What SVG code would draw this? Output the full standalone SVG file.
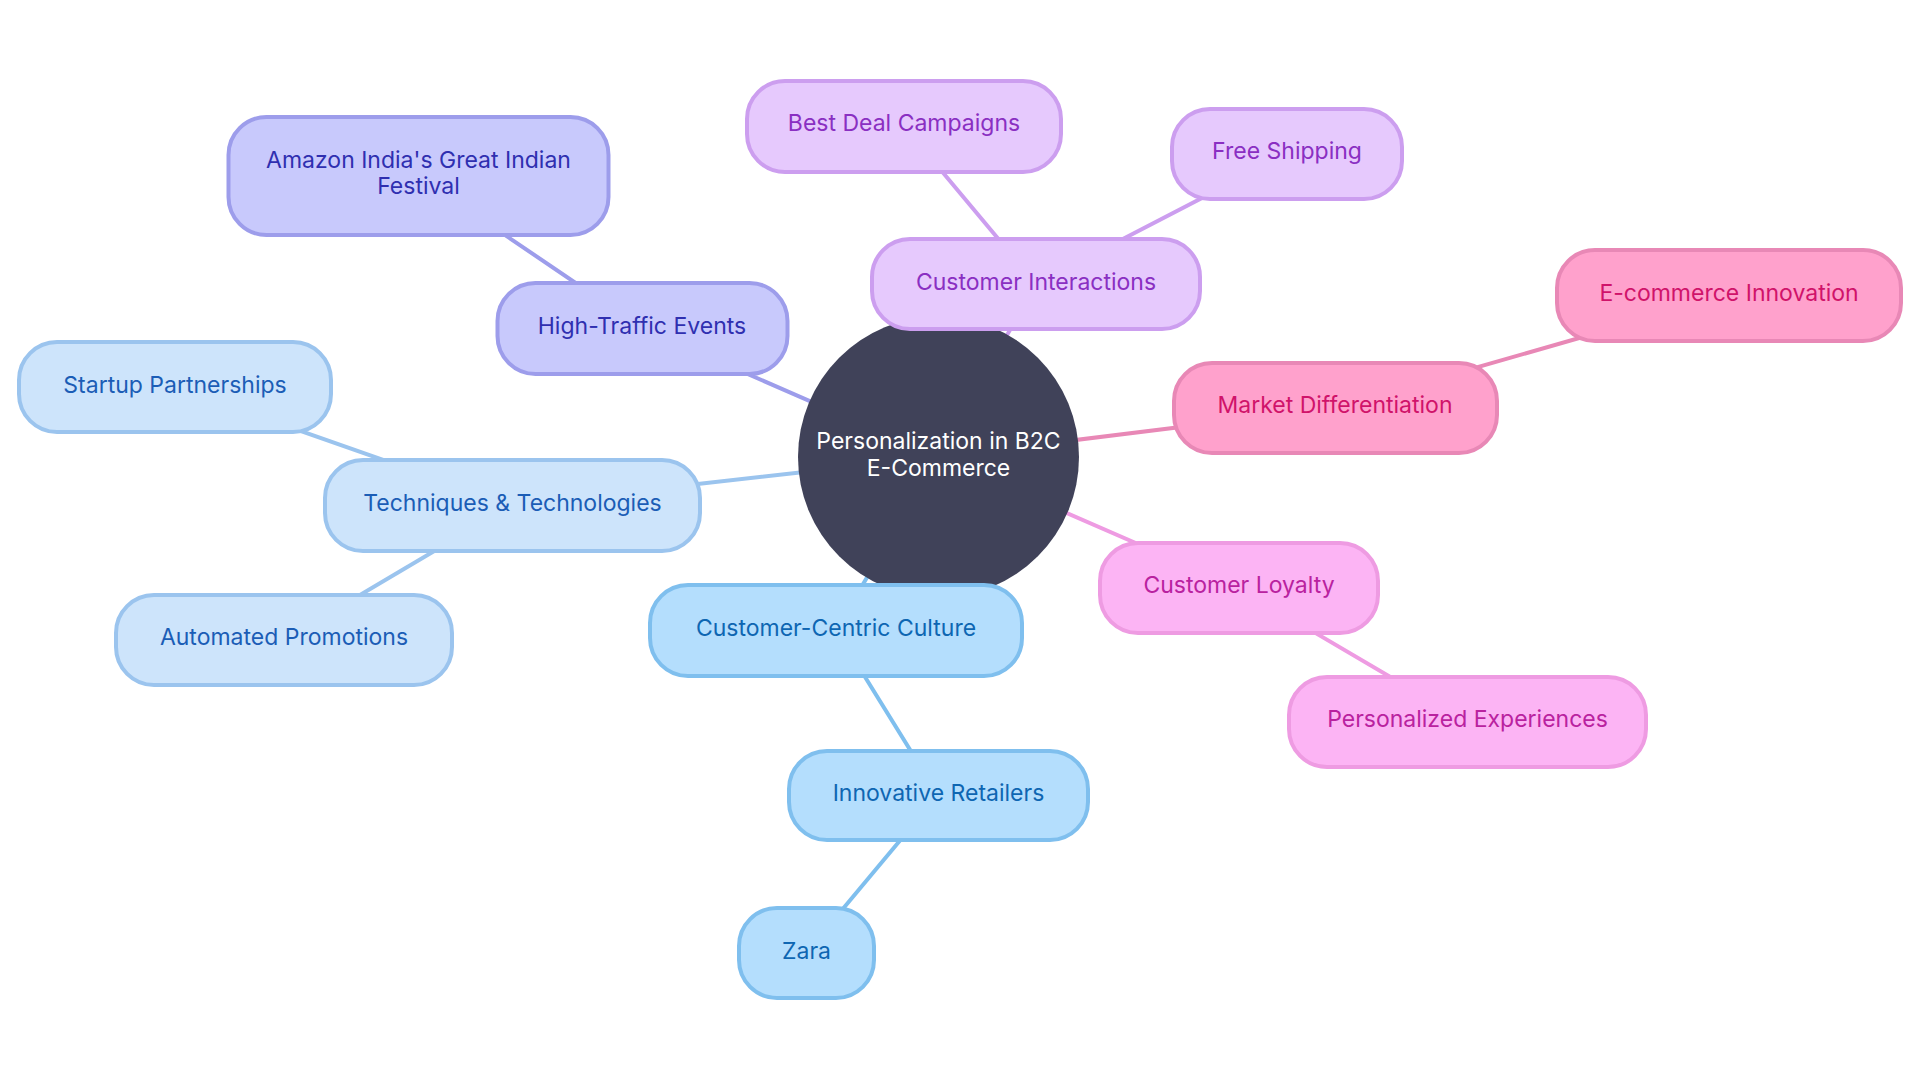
<svg xmlns="http://www.w3.org/2000/svg" width="1920" height="1080" viewBox="0 0 1920 1080">
<style>
text{font-family:Inter,"Noto Sans","Liberation Sans",sans-serif;font-size:23px;text-anchor:middle;dominant-baseline:central}
.n rect{stroke-width:4}
.e line{stroke-width:4;stroke-linecap:round}
.b1 rect{fill:#c8c9fc;stroke:#9d9deb}.b1 text{fill:#2f2fb0}
.b2 rect{fill:#e6c9fd;stroke:#cc9eef}.b2 text{fill:#8a2fc2}
.b3 rect{fill:#ffa1cc;stroke:#e888b6}.b3 text{fill:#d0136a}
.b4 rect{fill:#fcb4f4;stroke:#ee9be2}.b4 text{fill:#b9229f}
.b5 rect{fill:#b4defd;stroke:#7fbfee}.b5 text{fill:#0e66b2}
.b6 rect{fill:#cde4fb;stroke:#9bc4ee}.b6 text{fill:#1b5db6}
</style>
<rect width="1920" height="1080" fill="#ffffff"/>
<g id="connectors" class="e">
<line x1="938" y1="457" x2="642" y2="328" stroke="#9d9deb"/>
<line x1="642" y1="328" x2="418" y2="176" stroke="#9d9deb"/>
<line x1="938" y1="457" x2="1036" y2="284" stroke="#cc9eef"/>
<line x1="1036" y1="284" x2="904" y2="126" stroke="#cc9eef"/>
<line x1="1036" y1="284" x2="1287" y2="154" stroke="#cc9eef"/>
<line x1="938" y1="457" x2="1335" y2="408" stroke="#e888b6"/>
<line x1="1335" y1="408" x2="1729" y2="295" stroke="#e888b6"/>
<line x1="938" y1="457" x2="1239" y2="588" stroke="#ee9be2"/>
<line x1="1239" y1="588" x2="1467" y2="722" stroke="#ee9be2"/>
<line x1="938" y1="457" x2="836" y2="630" stroke="#7fbfee"/>
<line x1="836" y1="630" x2="938" y2="795" stroke="#7fbfee"/>
<line x1="938" y1="795" x2="806" y2="953" stroke="#7fbfee"/>
<line x1="938" y1="457" x2="512" y2="505" stroke="#9bc4ee"/>
<line x1="512" y1="505" x2="175" y2="387" stroke="#9bc4ee"/>
<line x1="512" y1="505" x2="284" y2="640" stroke="#9bc4ee"/>
</g>
<g id="root">
<circle cx="938.5" cy="457" r="140.5" fill="#404259"/>
<text x="938.5" y="441" fill="#ffffff">Personalization in B2C</text>
<text x="938.5" y="468" fill="#ffffff">E-Commerce</text>
</g>
<g id="high-traffic" class="n b1"><rect x="497.5" y="283" width="290" height="91" rx="38"/><text x="642" y="326">High-Traffic Events</text></g>
<g id="amazon" class="n b1"><rect x="228.5" y="117" width="380" height="118" rx="38"/><text x="418.5" y="160">Amazon India's Great Indian</text><text x="418.5" y="186">Festival</text></g>
<g id="customer-interactions" class="n b2"><rect x="872" y="239" width="328" height="90" rx="38"/><text x="1036" y="282">Customer Interactions</text></g>
<g id="best-deal" class="n b2"><rect x="747" y="81" width="314" height="91" rx="38"/><text x="904" y="123">Best Deal Campaigns</text></g>
<g id="free-shipping" class="n b2"><rect x="1172" y="109" width="230" height="90" rx="38"/><text x="1287" y="151">Free Shipping</text></g>
<g id="market-diff" class="n b3"><rect x="1174" y="363" width="323" height="90" rx="38"/><text x="1335" y="405">Market Differentiation</text></g>
<g id="ecommerce-innovation" class="n b3"><rect x="1557" y="250" width="344" height="91" rx="38"/><text x="1729" y="293">E-commerce Innovation</text></g>
<g id="customer-loyalty" class="n b4"><rect x="1100" y="543" width="278" height="90" rx="38"/><text x="1239" y="585">Customer Loyalty</text></g>
<g id="personalized-exp" class="n b4"><rect x="1289" y="677" width="357" height="90" rx="38"/><text x="1467.5" y="719">Personalized Experiences</text></g>
<g id="customer-centric" class="n b5"><rect x="650" y="585" width="372" height="91" rx="38"/><text x="836" y="628">Customer-Centric Culture</text></g>
<g id="innovative-retailers" class="n b5"><rect x="789" y="751" width="299" height="89" rx="38"/><text x="938.5" y="793">Innovative Retailers</text></g>
<g id="zara" class="n b5"><rect x="739" y="908" width="135" height="90" rx="38"/><text x="806.5" y="951">Zara</text></g>
<g id="techniques" class="n b6"><rect x="325" y="460" width="375" height="91" rx="38"/><text x="512.5" y="503">Techniques &amp; Technologies</text></g>
<g id="startup" class="n b6"><rect x="19" y="342" width="312" height="90" rx="38"/><text x="175" y="385">Startup Partnerships</text></g>
<g id="automated" class="n b6"><rect x="116" y="595" width="336" height="90" rx="38"/><text x="284" y="637">Automated Promotions</text></g>
</svg>
